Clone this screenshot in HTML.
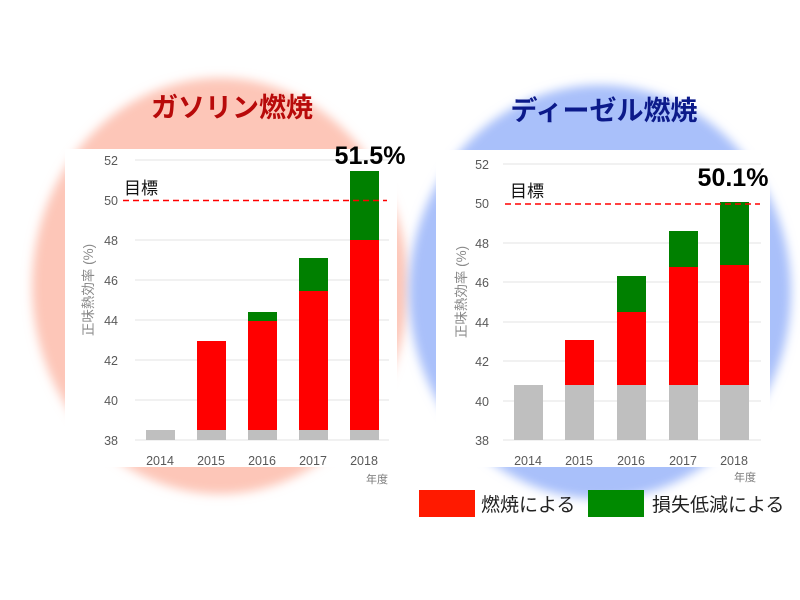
<!DOCTYPE html>
<html><head><meta charset="utf-8"><style>
html,body{margin:0;padding:0;background:#fff;}
svg{display:block;}
text{font-family:"Liberation Sans","Noto Sans CJK JP",sans-serif;}
</style></head><body>
<svg width="800" height="600" viewBox="0 0 800 600" xmlns="http://www.w3.org/2000/svg">
<defs>
<filter id="b" x="-20%" y="-20%" width="140%" height="140%"><feGaussianBlur stdDeviation="5"/></filter>
</defs>
<ellipse cx="220" cy="286" rx="188" ry="208" fill="#fdc6b8" filter="url(#b)"/>
<ellipse cx="600" cy="292" rx="191" ry="207" fill="#a9c0fa" filter="url(#b)"/>

<text x="232" y="117" font-size="27" font-weight="bold" fill="#b80a0a" text-anchor="middle" font-family="Noto Sans CJK JP, sans-serif">ガソリン燃焼</text>
<text x="604" y="120" font-size="27" font-weight="bold" fill="#0c1a8a" text-anchor="middle" font-family="Noto Sans CJK JP, sans-serif">ディーゼル燃焼</text>

<!-- Left panel -->
<rect x="65" y="149" width="332" height="318" fill="#fff"/>
<g stroke="#e3e3e3" stroke-width="1">
<line x1="135" x2="389" y1="160" y2="160"/><line x1="135" x2="389" y1="240" y2="240"/>
<line x1="135" x2="389" y1="280" y2="280"/><line x1="135" x2="389" y1="320" y2="320"/>
<line x1="135" x2="389" y1="360" y2="360"/><line x1="135" x2="389" y1="400" y2="400"/>
<line x1="135" x2="389" y1="440" y2="440"/>
</g>
<g font-size="12.5" fill="#595959" text-anchor="end">
<text x="118" y="165">52</text><text x="118" y="205">50</text><text x="118" y="245">48</text>
<text x="118" y="285">46</text><text x="118" y="325">44</text><text x="118" y="365">42</text>
<text x="118" y="405">40</text><text x="118" y="445">38</text>
</g>
<text transform="translate(93,290) rotate(-90)" font-size="13.5" fill="#8a8a8a" text-anchor="middle">正味熱効率 (%)</text>
<g fill="#bfbfbf">
<rect x="146" y="430" width="29" height="10"/><rect x="197" y="430" width="29" height="10"/>
<rect x="248" y="430" width="29" height="10"/><rect x="299" y="430" width="29" height="10"/>
<rect x="350" y="430" width="29" height="10"/>
</g>
<g fill="#ff0000">
<rect x="197" y="341" width="29" height="89"/><rect x="248" y="321" width="29" height="109"/>
<rect x="299" y="291" width="29" height="139"/><rect x="350" y="240" width="29" height="190"/>
</g>
<g fill="#008000">
<rect x="248" y="312" width="29" height="9"/><rect x="299" y="258" width="29" height="33"/>
<rect x="350" y="171" width="29" height="69"/>
</g>
<line x1="123" x2="387" y1="200.5" y2="200.5" stroke="#ff0000" stroke-width="1.6" stroke-dasharray="6,4"/>
<text x="124" y="194" font-size="17" fill="#111">目標</text>
<text x="370" y="164" font-size="25" font-weight="bold" fill="#000" text-anchor="middle">51.5%</text>
<g font-size="12.5" fill="#595959" text-anchor="middle">
<text x="160" y="465">2014</text><text x="211" y="465">2015</text><text x="262" y="465">2016</text>
<text x="313" y="465">2017</text><text x="364" y="465">2018</text>
</g>
<text x="377" y="483" font-size="11" fill="#777" text-anchor="middle">年度</text>

<!-- Right panel -->
<rect x="436" y="150" width="334" height="317" fill="#fff"/>
<g stroke="#e3e3e3" stroke-width="1">
<line x1="503" x2="761" y1="164" y2="164"/><line x1="503" x2="761" y1="243" y2="243"/>
<line x1="503" x2="761" y1="282" y2="282"/><line x1="503" x2="761" y1="322" y2="322"/>
<line x1="503" x2="761" y1="361" y2="361"/><line x1="503" x2="761" y1="401" y2="401"/>
<line x1="503" x2="761" y1="440" y2="440"/>
</g>
<g font-size="12.5" fill="#595959" text-anchor="end">
<text x="489" y="169">52</text><text x="489" y="208">50</text><text x="489" y="248">48</text>
<text x="489" y="287">46</text><text x="489" y="327">44</text><text x="489" y="366">42</text>
<text x="489" y="406">40</text><text x="489" y="445">38</text>
</g>
<text transform="translate(466,292) rotate(-90)" font-size="13.5" fill="#8a8a8a" text-anchor="middle">正味熱効率 (%)</text>
<g fill="#bfbfbf">
<rect x="514" y="385" width="29" height="55"/><rect x="565" y="385" width="29" height="55"/>
<rect x="617" y="385" width="29" height="55"/><rect x="669" y="385" width="29" height="55"/>
<rect x="720" y="385" width="29" height="55"/>
</g>
<g fill="#ff0000">
<rect x="565" y="340" width="29" height="45"/><rect x="617" y="312" width="29" height="73"/>
<rect x="669" y="267" width="29" height="118"/><rect x="720" y="265" width="29" height="120"/>
</g>
<g fill="#008000">
<rect x="617" y="276" width="29" height="36"/><rect x="669" y="231" width="29" height="36"/>
<rect x="720" y="202" width="29" height="63"/>
</g>
<line x1="505" x2="760" y1="204" y2="204" stroke="#ff0000" stroke-width="1.6" stroke-dasharray="6,4"/>
<text x="510" y="197" font-size="17" fill="#111">目標</text>
<text x="733" y="186" font-size="25" font-weight="bold" fill="#000" text-anchor="middle">50.1%</text>
<g font-size="12.5" fill="#595959" text-anchor="middle">
<text x="528" y="465">2014</text><text x="579" y="465">2015</text><text x="631" y="465">2016</text>
<text x="683" y="465">2017</text><text x="734" y="465">2018</text>
</g>
<text x="745" y="481" font-size="11" fill="#777" text-anchor="middle">年度</text>

<!-- Legend -->
<rect x="419" y="490" width="56" height="27" fill="#ff1a00"/>
<text x="481" y="511" font-size="19" fill="#222">燃焼による</text>
<rect x="588" y="490" width="56" height="27" fill="#008a00"/>
<text x="652" y="511" font-size="19" fill="#222">損失低減による</text>
</svg>
</body></html>
